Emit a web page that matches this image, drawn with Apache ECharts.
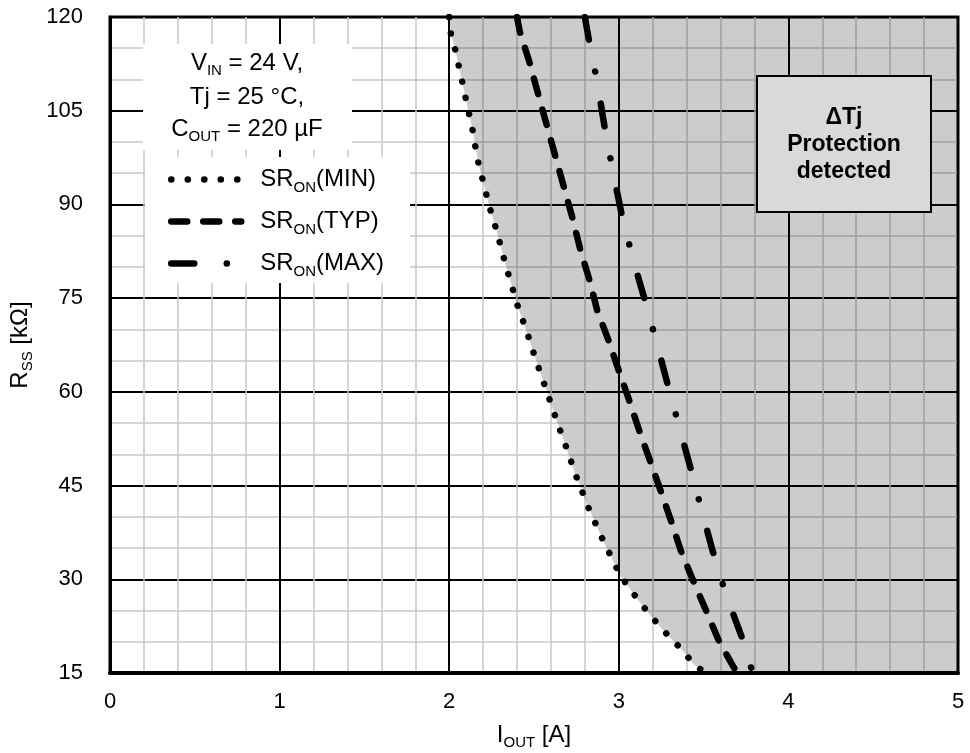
<!DOCTYPE html>
<html>
<head>
<meta charset="utf-8">
<script src="https://cdn.jsdelivr.net/npm/echarts@6/dist/echarts.min.js"></script>
<style>html,body{margin:0;padding:0;background:#fff}#c{width:970px;height:753px}</style>
</head>
<body>
<div id="c"></div>
<script>
// ---- data ----
const xTicks = [0, 1, 2, 3, 4, 5];
const yTicks = [15, 30, 45, 60, 75, 90, 105, 120];

const minI = [2.00, 2.010, 2.037, 2.057, 2.077, 2.097, 2.118, 2.138, 2.154, 2.172, 2.195, 2.219, 2.243, 2.270, 2.296, 2.320, 2.347, 2.373, 2.402, 2.432, 2.463, 2.493, 2.524, 2.555, 2.585, 2.615, 2.648, 2.680, 2.711, 2.741, 2.778, 2.810, 2.849, 2.887, 2.928, 2.969, 3.011, 3.068, 3.125, 3.184, 3.247, 3.312, 3.377, 3.438, 3.51];
const minR = [120, 117.3, 114.6, 112.1, 109.6, 107.0, 104.4, 101.9, 99.3, 96.7, 94.2, 91.6, 89.1, 86.7, 84.1, 81.6, 79.0, 76.6, 73.9, 71.6, 69.2, 66.6, 64.1, 61.7, 59.3, 56.9, 54.3, 51.9, 49.5, 47.0, 44.5, 42.1, 39.8, 37.4, 35.1, 32.8, 30.5, 28.4, 26.3, 24.3, 22.3, 20.4, 18.6, 16.5, 15];

const typI = [2.40, 2.416, 2.473, 2.523, 2.574, 2.625, 2.675, 2.726, 2.773, 2.828, 2.873, 2.940, 3.001, 3.062, 3.123, 3.184, 3.245, 3.306, 3.367, 3.438, 3.513, 3.586, 3.671, 3.70];
const typR = [120, 117.7, 112.8, 107.8, 102.8, 97.8, 92.9, 87.9, 82.8, 77.8, 73.0, 68.2, 63.3, 58.6, 53.6, 49.0, 44.3, 39.5, 34.5, 29.8, 25.1, 20.4, 16.2, 15];

const maxI = [2.80, 2.822, 2.872, 2.915, 2.963, 3.014, 3.077, 3.148, 3.220, 3.285, 3.352, 3.421, 3.488, 3.555, 3.630, 3.722, 3.79];
const maxR = [120, 116.6, 109.7, 102.6, 95.6, 88.8, 81.9, 75.2, 68.2, 61.5, 54.8, 48.0, 41.1, 34.4, 27.7, 21.0, 15];

// protection region: right of the MIN curve, closed along the bottom edge to I = 5 A
const regionCornerI = 5;
const regionCornerR = 15;

const seriesNames = ['SR_ON(MIN)', 'SR_ON(TYP)', 'SR_ON(MAX)'];
const conditionLines = ['V{s|IN} = 24 V,', 'Tj = 25 °C,', 'C{s|OUT} = 220 µF'];
const protectionText = 'ΔTj\nProtection\ndetected';

// ---- chart ----
const FONT = "'Liberation Sans', Arial, Helvetica, sans-serif";
const zip = (a, b) => a.map((v, i) => [v, b[i]]);
const minData = zip(minI, minR);
const regionData = minData.concat([[regionCornerI, regionCornerR]]);

const subRich = {
  n: { fontSize: 24, fontFamily: FONT, color: '#000', lineHeight: 30 },
  s: { fontSize: 15, fontFamily: FONT, color: '#000', lineHeight: 30, padding: [16, 0, 0, 0] }
};

const styles = {
  min: { color: '#000', width: 6.5, type: [0.1, 16.4], cap: 'round', join: 'round' },
  typ: { color: '#000', width: 6.5, type: [16, 16], cap: 'round', join: 'round' },
  max: { color: '#000', width: 6.5, type: [23, 32.5, 0.1, 32.5], cap: 'round', join: 'round' }
};

const chart = echarts.init(document.getElementById('c'), null, { renderer: 'canvas' });
chart.setOption({
  animation: false,
  backgroundColor: '#fff',
  grid: { left: 110, right: 12, top: 17, bottom: 80, show: true, borderColor: '#000', borderWidth: 3, backgroundColor: 'transparent', containLabel: false, outerBoundsMode: 'none' },
  xAxis: {
    type: 'value', min: xTicks[0], max: xTicks[xTicks.length - 1], interval: 1,
    axisLine: { show: true, onZero: false, lineStyle: { color: '#000', width: 4 } },
    axisTick: { show: false },
    axisLabel: { fontSize: 22, color: '#000', margin: 18, fontFamily: FONT },
    splitLine: { show: true, lineStyle: { color: '#000', width: 2 } },
    minorTick: { show: false, splitNumber: 5 },
    minorSplitLine: { show: true, lineStyle: { color: '#c8c8c8', width: 1.5 } },
    name: 'I{s|OUT} [A]', nameLocation: 'middle', nameGap: 47,
    nameTextStyle: { fontSize: 24, fontFamily: FONT, color: '#000', lineHeight: 30, rich: subRich }
  },
  yAxis: {
    type: 'value', min: yTicks[0], max: yTicks[yTicks.length - 1], interval: 15,
    axisLine: { show: true, onZero: false, lineStyle: { color: '#000', width: 3 } },
    axisTick: { show: false },
    axisLabel: { fontSize: 22, color: '#000', margin: 27, fontFamily: FONT },
    splitLine: { show: true, lineStyle: { color: '#000', width: 2 } },
    minorTick: { show: false, splitNumber: 3 },
    minorSplitLine: { show: true, lineStyle: { color: '#c8c8c8', width: 1.5 } },
    name: 'R{s|SS} [kΩ]', nameLocation: 'middle', nameGap: 73,
    nameTextStyle: { fontSize: 24, fontFamily: FONT, color: '#000', lineHeight: 30, rich: subRich }
  },
  legend: {
    orient: 'vertical', left: 168, top: 164, padding: 0, itemGap: 11, z: 20,
    itemWidth: 70, itemHeight: 14,
    itemStyle: { opacity: 0 },
    data: [
      { name: seriesNames[0], lineStyle: { width: 6.5 }, itemStyle: { opacity: 0 } },
      { name: seriesNames[1], lineStyle: { width: 6.5 }, itemStyle: { opacity: 0 } },
      { name: seriesNames[2], lineStyle: { width: 6.5 }, itemStyle: { opacity: 0 } }
    ],
    formatter: n => n.replace('_ON', '{s|ON}'),
    textStyle: { fontSize: 24, fontFamily: FONT, color: '#000', lineHeight: 30, padding: [0, 0, 0, 14], rich: subRich }
  },
  graphic: [
    { type: 'rect', z: 10, shape: { x: 143, y: 44, width: 209, height: 106 }, style: { fill: '#fff' } },
    { type: 'rect', z: 10, shape: { x: 145, y: 157, width: 265, height: 126 }, style: { fill: '#fff' } },
    { type: 'text', z: 11, x: 247, y: 63, style: { text: conditionLines[0], fontSize: 24, fontFamily: FONT, fill: '#000', align: 'center', verticalAlign: 'middle', lineHeight: 30, rich: { s: { fontSize: 15, fontFamily: FONT, lineHeight: 30, padding: [16, 0, 0, 0] } } } },
    { type: 'text', z: 11, x: 247, y: 97, style: { text: conditionLines[1], fontSize: 24, fontFamily: FONT, fill: '#000', align: 'center', verticalAlign: 'middle', lineHeight: 30 } },
    { type: 'text', z: 11, x: 247, y: 129, style: { text: conditionLines[2], fontSize: 24, fontFamily: FONT, fill: '#000', align: 'center', verticalAlign: 'middle', lineHeight: 30, rich: { s: { fontSize: 15, fontFamily: FONT, lineHeight: 30, padding: [16, 0, 0, 0] } } } },
    { type: 'rect', z: 10, shape: { x: 757, y: 76, width: 174, height: 136 }, style: { fill: '#d9d9d9', stroke: '#000', lineWidth: 2 } },
    { type: 'text', z: 11, x: 844, y: 145, style: { text: protectionText, fontSize: 23, fontWeight: 'bold', fontFamily: FONT, fill: '#000', align: 'center', verticalAlign: 'middle', lineHeight: 27 } }
  ],
  series: [
    {
      name: 'region', type: 'line', data: regionData, symbol: 'none', silent: true, z: 1,
      lineStyle: { width: 0, opacity: 0 },
      areaStyle: { origin: 'end', color: 'rgba(0,0,0,0.2)', opacity: 1 }
    },
    { name: seriesNames[0], type: 'line', data: minData, symbol: 'none', z: 3, itemStyle: { color: '#000' }, lineStyle: styles.min },
    { name: seriesNames[1], type: 'line', data: zip(typI, typR), symbol: 'none', z: 3, itemStyle: { color: '#000' }, lineStyle: styles.typ },
    { name: seriesNames[2], type: 'line', data: zip(maxI, maxR), symbol: 'none', z: 3, itemStyle: { color: '#000' }, lineStyle: styles.max }
  ]
});
</script>
</body>
</html>
